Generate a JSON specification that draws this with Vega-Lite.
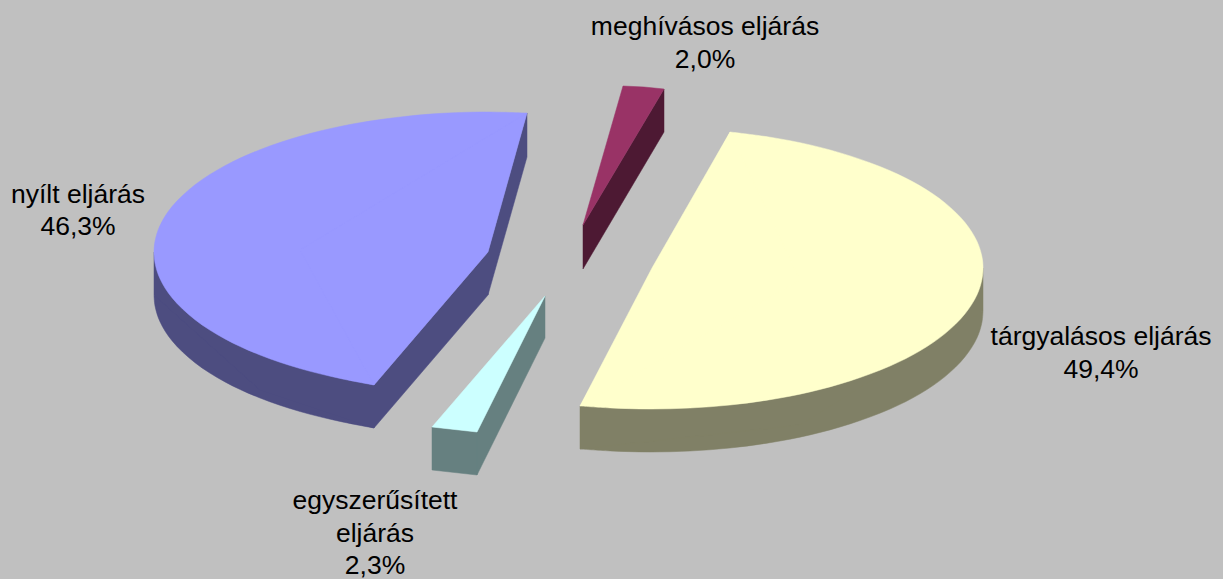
{
"$schema":"https://vega.github.io/schema/vega-lite/v6.json",
"width":1223,"height":579,"padding":0,"autosize":{"type":"none"},
"background":"#c0c0c0",
"view":{"stroke":null},
"datasets":{
"outline":[
{"s":"n1","c":"nyilt-side","k":"side-curve","i":1,"x":154,"y":295},{"s":"n1","c":"nyilt-side","k":"side-curve","i":2,"x":155,"y":305.9},{"s":"n1","c":"nyilt-side","k":"side-curve","i":3,"x":160,"y":321.7},{"s":"n1","c":"nyilt-side","k":"side-curve","i":4,"x":172,"y":340.7},{"s":"n1","c":"nyilt-side","k":"side-curve","i":5,"x":195,"y":362.7},{"s":"n1","c":"nyilt-side","k":"side-curve","i":6,"x":225,"y":381.9},{"s":"n1","c":"nyilt-side","k":"side-curve","i":7,"x":260,"y":398},{"s":"n1","c":"nyilt-side","k":"side-curve","i":8,"x":300,"y":411.5},{"s":"n1","c":"nyilt-side","k":"side-curve","i":9,"x":340,"y":421.4},{"s":"n1","c":"nyilt-side","k":"side-curve","i":10,"x":374,"y":428},
{"s":"n2","c":"nyilt-side","k":"side-poly","i":1,"x":154,"y":252},{"s":"n2","c":"nyilt-side","k":"side-poly","i":2,"x":154,"y":295},{"s":"n2","c":"nyilt-side","k":"side-poly","i":3,"x":260,"y":390},{"s":"n2","c":"nyilt-side","k":"side-poly","i":4,"x":374,"y":428},{"s":"n2","c":"nyilt-side","k":"side-poly","i":5,"x":374,"y":385},
{"s":"n3","c":"nyilt-side","k":"side-poly","i":1,"x":374,"y":385},{"s":"n3","c":"nyilt-side","k":"side-poly","i":2,"x":488,"y":252},{"s":"n3","c":"nyilt-side","k":"side-poly","i":3,"x":488,"y":295},{"s":"n3","c":"nyilt-side","k":"side-poly","i":4,"x":374,"y":428},
{"s":"n4","c":"nyilt-side","k":"side-poly","i":1,"x":488,"y":252},{"s":"n4","c":"nyilt-side","k":"side-poly","i":2,"x":527,"y":113},{"s":"n4","c":"nyilt-side","k":"side-poly","i":3,"x":527,"y":157},{"s":"n4","c":"nyilt-side","k":"side-poly","i":4,"x":488,"y":295},
{"s":"n5","c":"nyilt-top","k":"top-curve","i":1,"x":374,"y":385},{"s":"n5","c":"nyilt-top","k":"top-curve","i":2,"x":340,"y":378.4},{"s":"n5","c":"nyilt-top","k":"top-curve","i":3,"x":300,"y":368.5},{"s":"n5","c":"nyilt-top","k":"top-curve","i":4,"x":260,"y":355},{"s":"n5","c":"nyilt-top","k":"top-curve","i":5,"x":225,"y":338.9},{"s":"n5","c":"nyilt-top","k":"top-curve","i":6,"x":195,"y":319.7},{"s":"n5","c":"nyilt-top","k":"top-curve","i":7,"x":172,"y":297.7},{"s":"n5","c":"nyilt-top","k":"top-curve","i":8,"x":160,"y":278.7},{"s":"n5","c":"nyilt-top","k":"top-curve","i":9,"x":155,"y":262.9},{"s":"n5","c":"nyilt-top","k":"top-curve","i":10,"x":154,"y":252},{"s":"n5","c":"nyilt-top","k":"top-curve","i":11,"x":155,"y":241.2},{"s":"n5","c":"nyilt-top","k":"top-curve","i":12,"x":160,"y":225.5},{"s":"n5","c":"nyilt-top","k":"top-curve","i":13,"x":172,"y":206.6},{"s":"n5","c":"nyilt-top","k":"top-curve","i":14,"x":195,"y":184.8},{"s":"n5","c":"nyilt-top","k":"top-curve","i":15,"x":225,"y":165.7},{"s":"n5","c":"nyilt-top","k":"top-curve","i":16,"x":260,"y":149.7},{"s":"n5","c":"nyilt-top","k":"top-curve","i":17,"x":300,"y":136.3},{"s":"n5","c":"nyilt-top","k":"top-curve","i":18,"x":340,"y":126.5},{"s":"n5","c":"nyilt-top","k":"top-curve","i":19,"x":380,"y":119.6},{"s":"n5","c":"nyilt-top","k":"top-curve","i":20,"x":430,"y":114.1},{"s":"n5","c":"nyilt-top","k":"top-curve","i":21,"x":480,"y":112},{"s":"n5","c":"nyilt-top","k":"top-curve","i":22,"x":527,"y":113},
{"s":"n6","c":"nyilt-top","k":"top-poly","i":1,"x":527,"y":113},{"s":"n6","c":"nyilt-top","k":"top-poly","i":2,"x":488,"y":252},{"s":"n6","c":"nyilt-top","k":"top-poly","i":3,"x":374,"y":385},{"s":"n6","c":"nyilt-top","k":"top-poly","i":4,"x":300,"y":250},
{"s":"t1","c":"targy-side","k":"side-curve","i":1,"x":983,"y":311},{"s":"t1","c":"targy-side","k":"side-curve","i":2,"x":982,"y":322},{"s":"t1","c":"targy-side","k":"side-curve","i":3,"x":977,"y":337.8},{"s":"t1","c":"targy-side","k":"side-curve","i":4,"x":965,"y":356.8},{"s":"t1","c":"targy-side","k":"side-curve","i":5,"x":945,"y":376.6},{"s":"t1","c":"targy-side","k":"side-curve","i":6,"x":920,"y":393.8},{"s":"t1","c":"targy-side","k":"side-curve","i":7,"x":890,"y":409},{"s":"t1","c":"targy-side","k":"side-curve","i":8,"x":850,"y":423.9},{"s":"t1","c":"targy-side","k":"side-curve","i":9,"x":810,"y":434.9},{"s":"t1","c":"targy-side","k":"side-curve","i":10,"x":770,"y":442.7},{"s":"t1","c":"targy-side","k":"side-curve","i":11,"x":730,"y":448},{"s":"t1","c":"targy-side","k":"side-curve","i":12,"x":690,"y":451},{"s":"t1","c":"targy-side","k":"side-curve","i":13,"x":650,"y":452},{"s":"t1","c":"targy-side","k":"side-curve","i":14,"x":610,"y":450.9},{"s":"t1","c":"targy-side","k":"side-curve","i":15,"x":580,"y":449},
{"s":"t2","c":"targy-side","k":"side-poly","i":1,"x":983,"y":268},{"s":"t2","c":"targy-side","k":"side-poly","i":2,"x":983,"y":311},{"s":"t2","c":"targy-side","k":"side-poly","i":3,"x":800,"y":425},{"s":"t2","c":"targy-side","k":"side-poly","i":4,"x":580,"y":449},{"s":"t2","c":"targy-side","k":"side-poly","i":5,"x":580,"y":406},
{"s":"t3","c":"targy-top","k":"top-curve","i":1,"x":580,"y":406},{"s":"t3","c":"targy-top","k":"top-curve","i":2,"x":610,"y":407.9},{"s":"t3","c":"targy-top","k":"top-curve","i":3,"x":650,"y":409},{"s":"t3","c":"targy-top","k":"top-curve","i":4,"x":690,"y":408},{"s":"t3","c":"targy-top","k":"top-curve","i":5,"x":730,"y":405},{"s":"t3","c":"targy-top","k":"top-curve","i":6,"x":770,"y":399.7},{"s":"t3","c":"targy-top","k":"top-curve","i":7,"x":810,"y":391.9},{"s":"t3","c":"targy-top","k":"top-curve","i":8,"x":850,"y":380.9},{"s":"t3","c":"targy-top","k":"top-curve","i":9,"x":890,"y":366},{"s":"t3","c":"targy-top","k":"top-curve","i":10,"x":920,"y":350.8},{"s":"t3","c":"targy-top","k":"top-curve","i":11,"x":945,"y":333.6},{"s":"t3","c":"targy-top","k":"top-curve","i":12,"x":965,"y":313.8},{"s":"t3","c":"targy-top","k":"top-curve","i":13,"x":977,"y":294.8},{"s":"t3","c":"targy-top","k":"top-curve","i":14,"x":982,"y":279},{"s":"t3","c":"targy-top","k":"top-curve","i":15,"x":983,"y":268},{"s":"t3","c":"targy-top","k":"top-curve","i":16,"x":982,"y":257.1},{"s":"t3","c":"targy-top","k":"top-curve","i":17,"x":977,"y":241.4},{"s":"t3","c":"targy-top","k":"top-curve","i":18,"x":965,"y":222.5},{"s":"t3","c":"targy-top","k":"top-curve","i":19,"x":945,"y":202.9},{"s":"t3","c":"targy-top","k":"top-curve","i":20,"x":920,"y":185.8},{"s":"t3","c":"targy-top","k":"top-curve","i":21,"x":890,"y":170.7},{"s":"t3","c":"targy-top","k":"top-curve","i":22,"x":850,"y":155.9},{"s":"t3","c":"targy-top","k":"top-curve","i":23,"x":810,"y":144.9},{"s":"t3","c":"targy-top","k":"top-curve","i":24,"x":770,"y":137.2},{"s":"t3","c":"targy-top","k":"top-curve","i":25,"x":730,"y":132},
{"s":"t4","c":"targy-top","k":"top-poly","i":1,"x":730,"y":132},{"s":"t4","c":"targy-top","k":"top-poly","i":2,"x":652,"y":268},{"s":"t4","c":"targy-top","k":"top-poly","i":3,"x":580,"y":406},{"s":"t4","c":"targy-top","k":"top-poly","i":4,"x":800,"y":280},
{"s":"m1","c":"meghivasos-side","k":"side-poly","i":1,"x":664,"y":89},{"s":"m1","c":"meghivasos-side","k":"side-poly","i":2,"x":664,"y":132},{"s":"m1","c":"meghivasos-side","k":"side-poly","i":3,"x":583,"y":269},{"s":"m1","c":"meghivasos-side","k":"side-poly","i":4,"x":583,"y":225},
{"s":"m2","c":"meghivasos-top","k":"top-poly","i":1,"x":623,"y":86},{"s":"m2","c":"meghivasos-top","k":"top-poly","i":2,"x":644,"y":87},{"s":"m2","c":"meghivasos-top","k":"top-poly","i":3,"x":664,"y":89},{"s":"m2","c":"meghivasos-top","k":"top-poly","i":4,"x":583,"y":225},
{"s":"e1","c":"egyszerusitett-side","k":"side-poly","i":1,"x":432,"y":427},{"s":"e1","c":"egyszerusitett-side","k":"side-poly","i":2,"x":477,"y":432},{"s":"e1","c":"egyszerusitett-side","k":"side-poly","i":3,"x":477,"y":475},{"s":"e1","c":"egyszerusitett-side","k":"side-poly","i":4,"x":432,"y":470},
{"s":"e2","c":"egyszerusitett-side","k":"side-poly","i":1,"x":477,"y":432},{"s":"e2","c":"egyszerusitett-side","k":"side-poly","i":2,"x":545,"y":296},{"s":"e2","c":"egyszerusitett-side","k":"side-poly","i":3,"x":545,"y":338},{"s":"e2","c":"egyszerusitett-side","k":"side-poly","i":4,"x":477,"y":475},
{"s":"e3","c":"egyszerusitett-top","k":"top-poly","i":1,"x":545,"y":296},{"s":"e3","c":"egyszerusitett-top","k":"top-poly","i":2,"x":432,"y":427},{"s":"e3","c":"egyszerusitett-top","k":"top-poly","i":3,"x":477,"y":432}
],
"labels":[
{"t":"meghívásos eljárás","x":705,"y":27},{"t":"2,0%","x":705,"y":60},
{"t":"nyílt eljárás","x":78,"y":195},{"t":"46,3%","x":78,"y":227},
{"t":"tárgyalásos eljárás","x":1101,"y":337},{"t":"49,4%","x":1101,"y":370},
{"t":"egyszerűsített","x":375,"y":501},{"t":"eljárás","x":375,"y":534},{"t":"2,3%","x":375,"y":566}
]},
"encoding":{
"x":{"field":"x","type":"quantitative","scale":{"domain":[0,1223],"nice":false,"zero":false},"axis":null},
"y":{"field":"y","type":"quantitative","scale":{"domain":[579,0],"nice":false,"zero":false},"axis":null}
},
"layer":[
{"data":{"name":"outline"},"transform":[{"filter":"datum.k==='side-curve'"}],
"mark":{"type":"line","strokeWidth":0.5,"interpolate":"catmull-rom"},
"encoding":{"detail":{"field":"s"},"order":{"field":"i"},
"fill":{"field":"c","type":"nominal","legend":null,"scale":{"domain":["nyilt-side","nyilt-top","targy-side","targy-top","meghivasos-side","meghivasos-top","egyszerusitett-side","egyszerusitett-top"],"range":["#4d4d80","#9999ff","#808066","#ffffcc","#4d1933","#993366","#668080","#ccffff"]}},
"stroke":{"field":"c","type":"nominal","legend":null,"scale":{"domain":["nyilt-side","nyilt-top","targy-side","targy-top","meghivasos-side","meghivasos-top","egyszerusitett-side","egyszerusitett-top"],"range":["#4d4d80","#9999ff","#808066","#ffffcc","#4d1933","#993366","#668080","#ccffff"]}}}},
{"data":{"name":"outline"},"transform":[{"filter":"datum.k==='side-poly'"}],
"mark":{"type":"line","strokeWidth":0.5,"interpolate":"linear-closed"},
"encoding":{"detail":{"field":"s"},"order":{"field":"i"},
"fill":{"field":"c","type":"nominal","legend":null,"scale":{"domain":["nyilt-side","nyilt-top","targy-side","targy-top","meghivasos-side","meghivasos-top","egyszerusitett-side","egyszerusitett-top"],"range":["#4d4d80","#9999ff","#808066","#ffffcc","#4d1933","#993366","#668080","#ccffff"]}},
"stroke":{"field":"c","type":"nominal","legend":null,"scale":{"domain":["nyilt-side","nyilt-top","targy-side","targy-top","meghivasos-side","meghivasos-top","egyszerusitett-side","egyszerusitett-top"],"range":["#4d4d80","#9999ff","#808066","#ffffcc","#4d1933","#993366","#668080","#ccffff"]}}}},
{"data":{"name":"outline"},"transform":[{"filter":"datum.k==='top-curve'"}],
"mark":{"type":"line","strokeWidth":0.5,"interpolate":"catmull-rom"},
"encoding":{"detail":{"field":"s"},"order":{"field":"i"},
"fill":{"field":"c","type":"nominal","legend":null,"scale":{"domain":["nyilt-side","nyilt-top","targy-side","targy-top","meghivasos-side","meghivasos-top","egyszerusitett-side","egyszerusitett-top"],"range":["#4d4d80","#9999ff","#808066","#ffffcc","#4d1933","#993366","#668080","#ccffff"]}},
"stroke":{"field":"c","type":"nominal","legend":null,"scale":{"domain":["nyilt-side","nyilt-top","targy-side","targy-top","meghivasos-side","meghivasos-top","egyszerusitett-side","egyszerusitett-top"],"range":["#4d4d80","#9999ff","#808066","#ffffcc","#4d1933","#993366","#668080","#ccffff"]}}}},
{"data":{"name":"outline"},"transform":[{"filter":"datum.k==='top-poly'"}],
"mark":{"type":"line","strokeWidth":0.5,"interpolate":"linear-closed"},
"encoding":{"detail":{"field":"s"},"order":{"field":"i"},
"fill":{"field":"c","type":"nominal","legend":null,"scale":{"domain":["nyilt-side","nyilt-top","targy-side","targy-top","meghivasos-side","meghivasos-top","egyszerusitett-side","egyszerusitett-top"],"range":["#4d4d80","#9999ff","#808066","#ffffcc","#4d1933","#993366","#668080","#ccffff"]}},
"stroke":{"field":"c","type":"nominal","legend":null,"scale":{"domain":["nyilt-side","nyilt-top","targy-side","targy-top","meghivasos-side","meghivasos-top","egyszerusitett-side","egyszerusitett-top"],"range":["#4d4d80","#9999ff","#808066","#ffffcc","#4d1933","#993366","#668080","#ccffff"]}}}},
{"data":{"name":"labels"},
"mark":{"type":"text","font":"Liberation Sans","fontSize":26.5,"color":"#000000","align":"center","baseline":"middle"},
"encoding":{"text":{"field":"t"}}}
]
}
